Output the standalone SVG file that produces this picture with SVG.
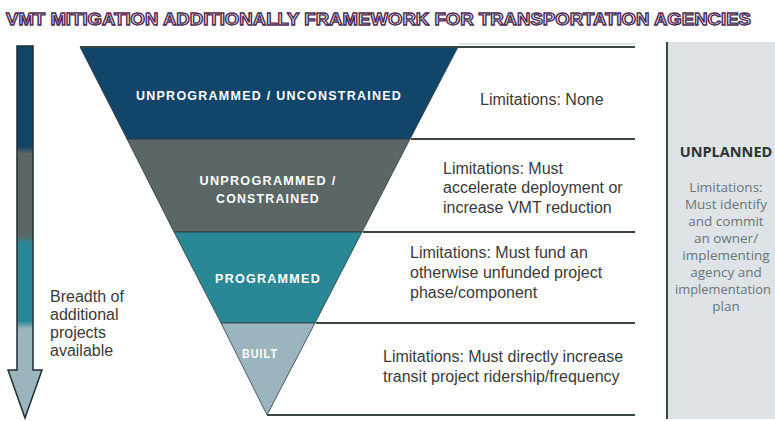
<svg xmlns="http://www.w3.org/2000/svg" width="775" height="421" viewBox="0 0 775 421">
<defs>
<linearGradient id="arrowGrad" gradientUnits="userSpaceOnUse" x1="0" y1="46" x2="0" y2="418">
<stop offset="0" stop-color="#114569"/>
<stop offset="0.27" stop-color="#114569"/>
<stop offset="0.29" stop-color="#5a6766"/>
<stop offset="0.51" stop-color="#5a6766"/>
<stop offset="0.53" stop-color="#2a8896"/>
<stop offset="0.74" stop-color="#2a8896"/>
<stop offset="0.76" stop-color="#9bb4bd"/>
<stop offset="1" stop-color="#9bb4bd"/>
</linearGradient>
</defs>
<style>
.band{stroke:#2c3a40;stroke-width:0.8}
.blabel{font-family:"Liberation Sans",Arial,sans-serif;font-weight:bold;font-size:12px;fill:#ffffff;letter-spacing:1.2px;text-anchor:middle}
.lim{font-family:"Liberation Sans",Arial,sans-serif;font-size:16px;fill:#3a3a3a}
.rule{stroke:#3a4646;stroke-width:2;fill:none}
.ptext{font-family:"Open Sans","Liberation Sans",sans-serif;font-size:13.5px;fill:#6b7677;text-anchor:middle}
</style>
<rect width="775" height="421" fill="#ffffff"/>

<g id="title">
<text x="6" y="25" textLength="745" lengthAdjust="spacingAndGlyphs" font-family="Liberation Sans, Arial, sans-serif" font-weight="bold" font-size="17" fill="#f4eef4" stroke="#4d2a52" stroke-width="1.3">VMT MITIGATION ADDITIONALLY FRAMEWORK FOR TRANSPORTATION AGENCIES</text>
</g>

<g id="breadth-arrow">
<path d="M17,46 H33 V370 H42 L25,418 L8,370 H17 Z" fill="url(#arrowGrad)" stroke="#1f2c33" stroke-width="1.5" stroke-linejoin="miter"/>
<text class="lim" font-size="16.5"><tspan x="50" y="302">Breadth of</tspan><tspan x="50" y="320">additional</tspan><tspan x="50" y="338">projects</tspan><tspan x="50" y="356">available</tspan></text>
</g>

<g id="panel-unplanned">
<rect x="667" y="42" width="108" height="377" fill="#dde3e6"/>
<line x1="667" y1="42" x2="667" y2="419" stroke="#3c4648" stroke-width="2"/>
<text x="726" y="157" font-family="Open Sans, Liberation Sans, sans-serif" font-weight="bold" font-size="14.5" fill="#2c3335" text-anchor="middle">UNPLANNED</text>
<text class="ptext"><tspan x="726" y="192">Limitations:</tspan><tspan x="726" y="209">Must identify</tspan><tspan x="726" y="226">and commit</tspan><tspan x="726" y="243">an owner/</tspan><tspan x="726" y="260">implementing</tspan><tspan x="726" y="277">agency and</tspan></text>
<text class="ptext" x="723" y="294" textLength="96" lengthAdjust="spacingAndGlyphs">implementation</text>
<text class="ptext" x="726" y="311">plan</text>
</g>

<g id="band-unprogrammed-unconstrained">
<polygon class="band" points="80,47 458,47 410,139 127,139" fill="#114569"/>
<text class="blabel" x="269" y="100" textLength="266" lengthAdjust="spacingAndGlyphs">UNPROGRAMMED / UNCONSTRAINED</text>
</g>
<g id="band-unprogrammed-constrained">
<polygon class="band" points="127,139 410,139 362,232 174,232" fill="#5a6766"/>
<text class="blabel" x="268" y="185" textLength="137" lengthAdjust="spacingAndGlyphs">UNPROGRAMMED /</text>
<text class="blabel" x="268" y="203" textLength="104" lengthAdjust="spacingAndGlyphs">CONSTRAINED</text>
</g>
<g id="band-programmed">
<polygon class="band" points="174,232 362,232 315,323 221,323" fill="#2a8896"/>
<text class="blabel" x="268" y="283" textLength="106" lengthAdjust="spacingAndGlyphs">PROGRAMMED</text>
</g>
<g id="band-built">
<polygon class="band" points="221,323 315,323 267,415" fill="#9bb4bd"/>
<text class="blabel" x="260" y="358" fill="#eef2f3" textLength="36" lengthAdjust="spacingAndGlyphs">BUILT</text>
</g>

<g id="connectors">
<line class="rule" x1="80" y1="47" x2="635" y2="47" stroke-width="2.5"/>
<line x1="458" y1="44" x2="635" y2="44" stroke="#b9c3c6" stroke-width="1"/>
<line class="rule" x1="411" y1="139" x2="635" y2="139"/>
<line class="rule" x1="363" y1="232" x2="635" y2="232"/>
<line class="rule" x1="316" y1="323" x2="635" y2="323"/>
<line class="rule" x1="267" y1="415" x2="635" y2="415"/>
</g>

<g id="lim-none">
<text class="lim" x="480" y="105">Limitations: None</text>
</g>
<g id="lim-constrained">
<text class="lim"><tspan x="443" y="174">Limitations: Must</tspan><tspan x="443" y="193">accelerate deployment or</tspan><tspan x="443" y="213">increase VMT reduction</tspan></text>
</g>
<g id="lim-programmed">
<text class="lim"><tspan x="410" y="258">Limitations: Must fund an</tspan><tspan x="410" y="278">otherwise unfunded project</tspan><tspan x="410" y="298">phase/component</tspan></text>
</g>
<g id="lim-built">
<text class="lim"><tspan x="383" y="362">Limitations: Must directly increase</tspan><tspan x="383" y="382">transit project ridership/frequency</tspan></text>
</g>
</svg>
